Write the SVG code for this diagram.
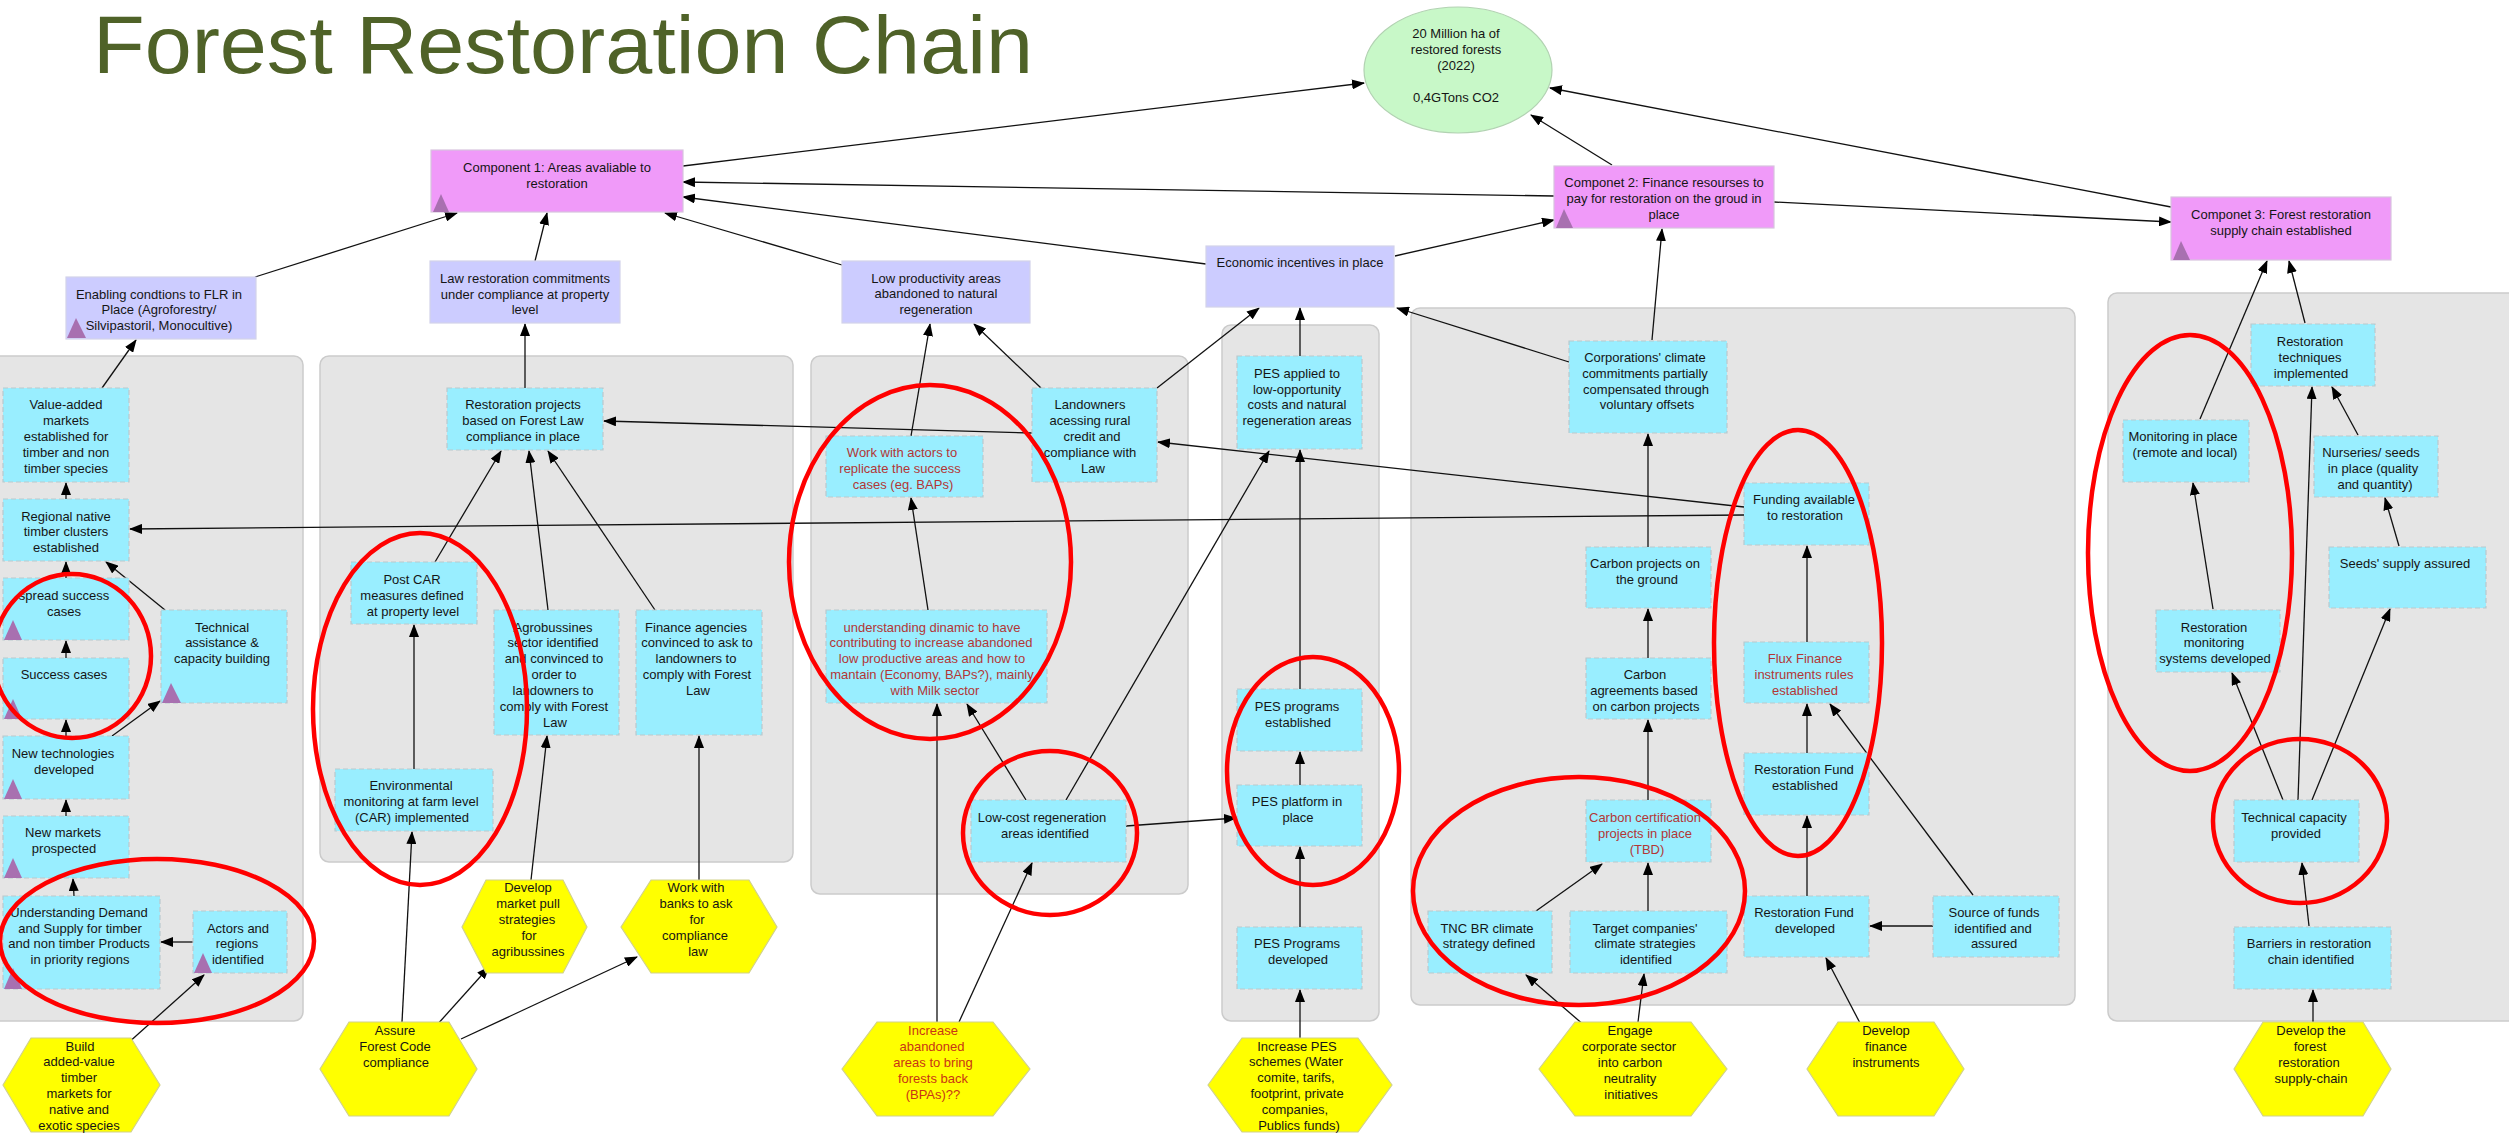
<svg xmlns="http://www.w3.org/2000/svg" width="2509" height="1138" viewBox="0 0 2509 1138">
<style>
.panel{fill:#e5e5e5;stroke:#cbcbcb;stroke-width:1.5}
.comp{fill:#f09af9;stroke:#d8c4de;stroke-width:1.2}
.lav{fill:#ccccff;stroke:#d2d2ea;stroke-width:1.2}
.cyan{fill:#99eeff;stroke:#b9c9cd;stroke-width:1.2;stroke-dasharray:5 3}
.hex{fill:#ffff00;stroke:#d2d28a;stroke-width:1.2}
.tri{fill:#a870b0}
.goal{fill:#c8f8c8;stroke:#b2d2b2;stroke-width:1.2}
text{font-family:"Liberation Sans",Arial,sans-serif;font-size:13px;fill:#151515;text-anchor:middle}
text.red{fill:#b33636}
text.redh{fill:#c93514}
text.title{font-size:81px;fill:#4f6228;text-anchor:start}
.conn line{stroke:#111;stroke-width:1.3;marker-end:url(#arr)}
.ring{fill:none;stroke:#ff0000;stroke-width:4.5}
</style>
<defs>
<marker id="arr" markerWidth="13" markerHeight="10" refX="12" refY="5" orient="auto" markerUnits="userSpaceOnUse"><path d="M0,0 L13,5 L0,10 z" fill="#000"/></marker>
</defs>
<rect width="2509" height="1138" fill="#ffffff"/>
<text class="title" x="93" y="73" textLength="940" lengthAdjust="spacingAndGlyphs">Forest Restoration Chain</text>

<g id="panels">
<rect class="panel" x="-8" y="356" width="311" height="665" rx="9"/>
<rect class="panel" x="320" y="356" width="473" height="506" rx="9"/>
<rect class="panel" x="811" y="356" width="377" height="538" rx="9"/>
<rect class="panel" x="1222" y="325" width="157" height="696" rx="9"/>
<rect class="panel" x="1411" y="308" width="664" height="697" rx="9"/>
<rect class="panel" x="2108" y="293" width="420" height="728" rx="9"/>
</g>

<g id="connectors" class="conn">
<line x1="683" y1="166" x2="1364" y2="83"/>
<line x1="1612" y1="165" x2="1531" y2="115"/>
<line x1="2171" y1="207" x2="1550" y2="88"/>
<line x1="1554" y1="196" x2="683" y2="182"/>
<line x1="1206" y1="264" x2="683" y2="197"/>
<line x1="842" y1="265" x2="665" y2="213"/>
<line x1="255" y1="277" x2="457" y2="213"/>
<line x1="535" y1="261" x2="547" y2="213"/>
<line x1="1395" y1="256" x2="1554" y2="220"/>
<line x1="1652" y1="340" x2="1662" y2="229"/>
<line x1="1774" y1="202" x2="2171" y2="222"/>
<line x1="2200" y1="419" x2="2267" y2="261"/>
<line x1="2305" y1="323" x2="2289" y2="261"/>
<line x1="102" y1="388" x2="136" y2="340"/>
<line x1="525" y1="388" x2="525" y2="324"/>
<line x1="911" y1="436" x2="930" y2="324"/>
<line x1="1041" y1="388" x2="974" y2="324"/>
<line x1="1157" y1="388" x2="1259" y2="308"/>
<line x1="1300" y1="356" x2="1300" y2="308"/>
<line x1="1569" y1="362" x2="1397" y2="308"/>
<line x1="66" y1="499" x2="66" y2="483"/>
<line x1="66" y1="578" x2="66" y2="562"/>
<line x1="165" y1="610" x2="106" y2="562"/>
<line x1="66" y1="658" x2="66" y2="641"/>
<line x1="66" y1="736" x2="66" y2="720"/>
<line x1="112" y1="736" x2="160" y2="701"/>
<line x1="66" y1="816" x2="66" y2="800"/>
<line x1="74" y1="896" x2="73" y2="879"/>
<line x1="193" y1="942" x2="161" y2="942"/>
<line x1="127" y1="1044" x2="204" y2="975"/>
<line x1="1744" y1="515" x2="130" y2="529"/>
<line x1="1032" y1="433" x2="604" y2="421"/>
<line x1="1744" y1="507" x2="1158" y2="442"/>
<line x1="435" y1="562" x2="501" y2="451"/>
<line x1="548" y1="610" x2="529" y2="451"/>
<line x1="655" y1="610" x2="548" y2="451"/>
<line x1="414" y1="769" x2="414" y2="625"/>
<line x1="531" y1="880" x2="547" y2="736"/>
<line x1="402" y1="1022" x2="412" y2="832"/>
<line x1="436" y1="1026" x2="489" y2="967"/>
<line x1="461" y1="1039" x2="637" y2="957"/>
<line x1="699" y1="880" x2="699" y2="736"/>
<line x1="928" y1="610" x2="911" y2="498"/>
<line x1="1026" y1="800" x2="967" y2="704"/>
<line x1="1066" y1="800" x2="1269" y2="451"/>
<line x1="1126" y1="826" x2="1236" y2="818"/>
<line x1="937" y1="1022" x2="937" y2="704"/>
<line x1="959" y1="1022" x2="1032" y2="863"/>
<line x1="1300" y1="927" x2="1300" y2="847"/>
<line x1="1300" y1="785" x2="1300" y2="752"/>
<line x1="1300" y1="689" x2="1300" y2="450"/>
<line x1="1300" y1="1038" x2="1300" y2="990"/>
<line x1="1648" y1="547" x2="1648" y2="434"/>
<line x1="1648" y1="658" x2="1648" y2="609"/>
<line x1="1648" y1="800" x2="1648" y2="720"/>
<line x1="1648" y1="911" x2="1648" y2="863"/>
<line x1="1536" y1="911" x2="1602" y2="864"/>
<line x1="1585" y1="1026" x2="1526" y2="975"/>
<line x1="1638" y1="1022" x2="1644" y2="974"/>
<line x1="1807" y1="642" x2="1807" y2="546"/>
<line x1="1807" y1="753" x2="1807" y2="704"/>
<line x1="1807" y1="896" x2="1807" y2="816"/>
<line x1="1933" y1="926" x2="1870" y2="926"/>
<line x1="1973" y1="895" x2="1830" y2="704"/>
<line x1="1860" y1="1023" x2="1826" y2="958"/>
<line x1="2358" y1="435" x2="2332" y2="387"/>
<line x1="2399" y1="546" x2="2385" y2="498"/>
<line x1="2213" y1="609" x2="2193" y2="483"/>
<line x1="2283" y1="800" x2="2232" y2="673"/>
<line x1="2298" y1="800" x2="2312" y2="387"/>
<line x1="2312" y1="800" x2="2390" y2="609"/>
<line x1="2309" y1="926" x2="2302" y2="863"/>
<line x1="2313" y1="1022" x2="2313" y2="990"/>
</g>

<g id="goal">
<ellipse class="goal" cx="1458" cy="70" rx="94" ry="63"/>
<text><tspan x="1456" y="38">20 Million ha of</tspan><tspan x="1456" y="54">restored forests</tspan><tspan x="1456" y="70">(2022)</tspan><tspan x="1456" y="102">0,4GTons CO2</tspan></text>
</g>

<g id="component1">
<rect class="comp" x="431" y="150" width="252" height="62"/>
<polygon class="tri" points="433,212 441,194 449,212"/>
<text><tspan x="557" y="172">Component 1: Areas avaliable to</tspan><tspan x="557" y="188">restoration</tspan></text>
</g>
<g id="component2">
<rect class="comp" x="1554" y="166" width="220" height="62"/>
<polygon class="tri" points="1556,228 1564,209 1573,228"/>
<text><tspan x="1664" y="187">Componet 2: Finance resourses to</tspan><tspan x="1664" y="203">pay for restoration on the groud in</tspan><tspan x="1664" y="219">place</tspan></text>
</g>
<g id="component3">
<rect class="comp" x="2171" y="197" width="220" height="63"/>
<polygon class="tri" points="2173,260 2181,241 2190,260"/>
<text><tspan x="2281" y="219">Componet 3: Forest restoration</tspan><tspan x="2281" y="235">supply chain established</tspan></text>
</g>

<g id="enabling">
<rect class="lav" x="66" y="277" width="190" height="62"/>
<polygon class="tri" points="67,338 76,318 86,338"/>
<text><tspan x="159" y="299">Enabling condtions to FLR in</tspan><tspan x="159" y="314">Place (Agroforestry/</tspan><tspan x="159" y="330">Silvipastoril, Monocultive)</tspan></text>
</g>
<g id="law-commitments">
<rect class="lav" x="430" y="261" width="190" height="62"/>
<text><tspan x="525" y="283">Law restoration commitments</tspan><tspan x="525" y="299">under compliance at property</tspan><tspan x="525" y="314">level</tspan></text>
</g>
<g id="low-productivity">
<rect class="lav" x="842" y="261" width="188" height="62"/>
<text><tspan x="936" y="283">Low productivity areas</tspan><tspan x="936" y="298">abandoned to natural</tspan><tspan x="936" y="314">regeneration</tspan></text>
</g>
<g id="economic-incentives">
<rect class="lav" x="1206" y="246" width="188" height="61"/>
<text><tspan x="1300" y="267">Economic incentives in place</tspan></text>
</g>

<g id="value-added">
<rect class="cyan" x="3" y="388" width="126" height="94"/>
<text><tspan x="66" y="409">Value-added</tspan><tspan x="66" y="425">markets</tspan><tspan x="66" y="441">established for</tspan><tspan x="66" y="457">timber and non</tspan><tspan x="66" y="473">timber species</tspan></text>
</g>
<g id="regional-clusters">
<rect class="cyan" x="3" y="499" width="126" height="62"/>
<text><tspan x="66" y="521">Regional native</tspan><tspan x="66" y="536">timber clusters</tspan><tspan x="66" y="552">established</tspan></text>
</g>
<g id="spread-success">
<rect class="cyan" x="3" y="578" width="126" height="62"/>
<polygon class="tri" points="4,640 13,620 22,640"/>
<text><tspan x="64" y="600">spread success</tspan><tspan x="64" y="616">cases</tspan></text>
</g>
<g id="success-cases">
<rect class="cyan" x="3" y="658" width="126" height="61"/>
<polygon class="tri" points="4,719 13,699 22,719"/>
<text><tspan x="64" y="679">Success cases</tspan></text>
</g>
<g id="technical-assistance">
<rect class="cyan" x="161" y="610" width="126" height="93"/>
<polygon class="tri" points="162,703 171,683 181,703"/>
<text><tspan x="222" y="632">Technical</tspan><tspan x="222" y="647">assistance &amp;</tspan><tspan x="222" y="663">capacity building</tspan></text>
</g>
<g id="new-technologies">
<rect class="cyan" x="3" y="736" width="126" height="63"/>
<polygon class="tri" points="4,799 13,779 22,799"/>
<text><tspan x="63" y="758">New technologies</tspan><tspan x="64" y="774">developed</tspan></text>
</g>
<g id="new-markets">
<rect class="cyan" x="3" y="816" width="126" height="62"/>
<polygon class="tri" points="4,878 13,858 22,878"/>
<text><tspan x="63" y="837">New markets</tspan><tspan x="64" y="853">prospected</tspan></text>
</g>
<g id="understanding-demand">
<rect class="cyan" x="3" y="896" width="157" height="93"/>
<polygon class="tri" points="4,989 13,968 22,989"/>
<text><tspan x="79" y="917">Understanding Demand</tspan><tspan x="80" y="933">and Supply for timber</tspan><tspan x="79" y="948">and non timber Products</tspan><tspan x="80" y="964">in priority regions</tspan></text>
</g>
<g id="actors-regions">
<rect class="cyan" x="193" y="911" width="94" height="62"/>
<polygon class="tri" points="194,973 203,953 212,973"/>
<text><tspan x="238" y="933">Actors and</tspan><tspan x="237" y="948">regions</tspan><tspan x="238" y="964">identified</tspan></text>
</g>

<g id="restoration-projects">
<rect class="cyan" x="447" y="388" width="156" height="62"/>
<text><tspan x="523" y="409">Restoration projects</tspan><tspan x="523" y="425">based on Forest Law</tspan><tspan x="523" y="441">compliance in place</tspan></text>
</g>
<g id="post-car">
<rect class="cyan" x="351" y="562" width="126" height="62"/>
<text><tspan x="412" y="584">Post CAR</tspan><tspan x="412" y="600">measures defined</tspan><tspan x="413" y="616">at property level</tspan></text>
</g>
<g id="agrobusiness">
<rect class="cyan" x="494" y="610" width="125" height="125"/>
<text><tspan x="553" y="632">Agrobussines</tspan><tspan x="553" y="647">sector identified</tspan><tspan x="554" y="663">and convinced to</tspan><tspan x="554" y="679">order to</tspan><tspan x="553" y="695">landowners to</tspan><tspan x="554" y="711">comply with Forest</tspan><tspan x="555" y="727">Law</tspan></text>
</g>
<g id="finance-agencies">
<rect class="cyan" x="636" y="610" width="126" height="125"/>
<text><tspan x="696" y="632">Finance agencies</tspan><tspan x="697" y="647">convinced to ask to</tspan><tspan x="696" y="663">landowners to</tspan><tspan x="697" y="679">comply with Forest</tspan><tspan x="698" y="695">Law</tspan></text>
</g>
<g id="environmental-monitoring">
<rect class="cyan" x="335" y="769" width="158" height="62"/>
<text><tspan x="411" y="790">Environmental</tspan><tspan x="411" y="806">monitoring at farm level</tspan><tspan x="412" y="822">(CAR) implemented</tspan></text>
</g>

<g id="work-with-actors">
<rect class="cyan" x="826" y="436" width="157" height="61"/>
<text class="red"><tspan x="902" y="457">Work with actors to</tspan><tspan x="900" y="473">replicate the success</tspan><tspan x="903" y="489">cases (eg. BAPs)</tspan></text>
</g>
<g id="landowners">
<rect class="cyan" x="1032" y="388" width="125" height="94"/>
<text><tspan x="1090" y="409">Landowners</tspan><tspan x="1090" y="425">acessing rural</tspan><tspan x="1092" y="441">credit and</tspan><tspan x="1090" y="457">compliance with</tspan><tspan x="1093" y="473">Law</tspan></text>
</g>
<g id="understanding-dynamic">
<rect class="cyan" x="826" y="610" width="221" height="93"/>
<text class="red"><tspan x="932" y="632">understanding dinamic to have</tspan><tspan x="931" y="647">contributing to increase abandoned</tspan><tspan x="932" y="663">low productive areas and how to</tspan><tspan x="932" y="679">mantain (Economy, BAPs?), mainly</tspan><tspan x="935" y="695">with Milk sector</tspan></text>
</g>
<g id="low-cost-regeneration">
<rect class="cyan" x="971" y="800" width="155" height="62"/>
<text><tspan x="1042" y="822">Low-cost regeneration</tspan><tspan x="1045" y="838">areas identified</tspan></text>
</g>

<g id="pes-applied">
<rect class="cyan" x="1237" y="356" width="125" height="93"/>
<text><tspan x="1297" y="378">PES applied to</tspan><tspan x="1297" y="394">low-opportunity</tspan><tspan x="1297" y="409">costs and natural</tspan><tspan x="1297" y="425">regeneration areas</tspan></text>
</g>
<g id="pes-established">
<rect class="cyan" x="1237" y="689" width="125" height="62"/>
<text><tspan x="1297" y="711">PES programs</tspan><tspan x="1298" y="727">established</tspan></text>
</g>
<g id="pes-platform">
<rect class="cyan" x="1237" y="785" width="125" height="61"/>
<text><tspan x="1297" y="806">PES platform in</tspan><tspan x="1298" y="822">place</tspan></text>
</g>
<g id="pes-developed">
<rect class="cyan" x="1237" y="927" width="125" height="62"/>
<text><tspan x="1297" y="948">PES Programs</tspan><tspan x="1298" y="964">developed</tspan></text>
</g>

<g id="corporations">
<rect class="cyan" x="1569" y="341" width="158" height="92"/>
<text><tspan x="1645" y="362">Corporations' climate</tspan><tspan x="1645" y="378">commitments partially</tspan><tspan x="1646" y="394">compensated through</tspan><tspan x="1647" y="409">voluntary offsets</tspan></text>
</g>
<g id="carbon-projects">
<rect class="cyan" x="1586" y="547" width="125" height="61"/>
<text><tspan x="1645" y="568">Carbon projects on</tspan><tspan x="1647" y="584">the ground</tspan></text>
</g>
<g id="carbon-agreements">
<rect class="cyan" x="1586" y="658" width="125" height="61"/>
<text><tspan x="1645" y="679">Carbon</tspan><tspan x="1644" y="695">agreements based</tspan><tspan x="1646" y="711">on carbon projects</tspan></text>
</g>
<g id="carbon-certification">
<rect class="cyan" x="1586" y="800" width="125" height="62"/>
<text class="red"><tspan x="1645" y="822">Carbon certification</tspan><tspan x="1645" y="838">projects in place</tspan><tspan x="1647" y="854">(TBD)</tspan></text>
</g>
<g id="tnc-strategy">
<rect class="cyan" x="1428" y="911" width="124" height="62"/>
<text><tspan x="1487" y="933">TNC BR climate</tspan><tspan x="1489" y="948">strategy defined</tspan></text>
</g>
<g id="target-companies">
<rect class="cyan" x="1570" y="911" width="157" height="62"/>
<text><tspan x="1645" y="933">Target companies'</tspan><tspan x="1645" y="948">climate strategies</tspan><tspan x="1646" y="964">identified</tspan></text>
</g>
<g id="funding-available">
<rect class="cyan" x="1744" y="483" width="125" height="62"/>
<text><tspan x="1804" y="504">Funding available</tspan><tspan x="1805" y="520">to restoration</tspan></text>
</g>
<g id="flux-finance">
<rect class="cyan" x="1744" y="642" width="125" height="61"/>
<text class="red"><tspan x="1805" y="663">Flux Finance</tspan><tspan x="1804" y="679">instruments rules</tspan><tspan x="1805" y="695">established</tspan></text>
</g>
<g id="fund-established">
<rect class="cyan" x="1744" y="753" width="125" height="62"/>
<text><tspan x="1804" y="774">Restoration Fund</tspan><tspan x="1805" y="790">established</tspan></text>
</g>
<g id="fund-developed">
<rect class="cyan" x="1744" y="896" width="125" height="61"/>
<text><tspan x="1804" y="917">Restoration Fund</tspan><tspan x="1805" y="933">developed</tspan></text>
</g>
<g id="source-of-funds">
<rect class="cyan" x="1933" y="896" width="126" height="61"/>
<text><tspan x="1994" y="917">Source of funds</tspan><tspan x="1993" y="933">identified and</tspan><tspan x="1994" y="948">assured</tspan></text>
</g>

<g id="restoration-techniques">
<rect class="cyan" x="2251" y="324" width="124" height="62"/>
<text><tspan x="2310" y="346">Restoration</tspan><tspan x="2310" y="362">techniques</tspan><tspan x="2311" y="378">implemented</tspan></text>
</g>
<g id="monitoring-in-place">
<rect class="cyan" x="2123" y="420" width="126" height="62"/>
<text><tspan x="2183" y="441">Monitoring in place</tspan><tspan x="2185" y="457">(remote and local)</tspan></text>
</g>
<g id="nurseries">
<rect class="cyan" x="2314" y="436" width="124" height="61"/>
<text><tspan x="2371" y="457">Nurseries/ seeds</tspan><tspan x="2373" y="473">in place (quality</tspan><tspan x="2375" y="489">and quantity)</tspan></text>
</g>
<g id="seeds-supply">
<rect class="cyan" x="2329" y="547" width="157" height="61"/>
<text><tspan x="2405" y="568">Seeds' supply assured</tspan></text>
</g>
<g id="restoration-monitoring">
<rect class="cyan" x="2156" y="610" width="124" height="62"/>
<text><tspan x="2214" y="632">Restoration</tspan><tspan x="2214" y="647">monitoring</tspan><tspan x="2215" y="663">systems developed</tspan></text>
</g>
<g id="technical-capacity">
<rect class="cyan" x="2234" y="800" width="125" height="62"/>
<text><tspan x="2294" y="822">Technical capacity</tspan><tspan x="2296" y="838">provided</tspan></text>
</g>
<g id="barriers">
<rect class="cyan" x="2234" y="927" width="157" height="62"/>
<text><tspan x="2309" y="948">Barriers in restoration</tspan><tspan x="2311" y="964">chain identified</tspan></text>
</g>

<g id="hex-build">
<polygon class="hex" points="3,1085 31,1038 131,1038 160,1085 131,1132 31,1132"/>
<text><tspan x="80" y="1051">Build</tspan><tspan x="79" y="1066">added-value</tspan><tspan x="79" y="1082">timber</tspan><tspan x="79" y="1098">markets for</tspan><tspan x="79" y="1114">native and</tspan><tspan x="79" y="1130">exotic species</tspan></text>
</g>
<g id="hex-assure">
<polygon class="hex" points="320,1069 349,1022 449,1022 477,1069 449,1116 349,1116"/>
<text><tspan x="395" y="1035">Assure</tspan><tspan x="395" y="1051">Forest Code</tspan><tspan x="396" y="1067">compliance</tspan></text>
</g>
<g id="hex-market-pull">
<polygon class="hex" points="462,927 486,880 563,880 587,927 563,973 486,973"/>
<text><tspan x="528" y="892">Develop</tspan><tspan x="528" y="908">market pull</tspan><tspan x="527" y="924">strategies</tspan><tspan x="529" y="940">for</tspan><tspan x="528" y="956">agribussines</tspan></text>
</g>
<g id="hex-banks">
<polygon class="hex" points="621,927 651,880 749,880 777,927 749,973 651,973"/>
<text><tspan x="696" y="892">Work with</tspan><tspan x="696" y="908">banks to ask</tspan><tspan x="697" y="924">for</tspan><tspan x="695" y="940">compliance</tspan><tspan x="698" y="956">law</tspan></text>
</g>
<g id="hex-abandoned">
<polygon class="hex" points="842,1069 877,1022 993,1022 1030,1069 993,1116 877,1116"/>
<text class="redh"><tspan x="933" y="1035">Increase</tspan><tspan x="932" y="1051">abandoned</tspan><tspan x="933" y="1067">areas to bring</tspan><tspan x="933" y="1083">forests back</tspan><tspan x="933" y="1099">(BPAs)??</tspan></text>
</g>
<g id="hex-pes">
<polygon class="hex" points="1208,1085 1242,1038 1358,1038 1392,1085 1358,1132 1242,1132"/>
<text><tspan x="1297" y="1051">Increase PES</tspan><tspan x="1296" y="1066">schemes (Water</tspan><tspan x="1296" y="1082">comite, tarifs,</tspan><tspan x="1297" y="1098">footprint, private</tspan><tspan x="1295" y="1114">companies,</tspan><tspan x="1299" y="1130">Publics funds)</tspan></text>
</g>
<g id="hex-engage">
<polygon class="hex" points="1539,1069 1575,1022 1691,1022 1727,1069 1691,1116 1575,1116"/>
<text><tspan x="1630" y="1035">Engage</tspan><tspan x="1629" y="1051">corporate sector</tspan><tspan x="1630" y="1067">into carbon</tspan><tspan x="1630" y="1083">neutrality</tspan><tspan x="1631" y="1099">initiatives</tspan></text>
</g>
<g id="hex-finance">
<polygon class="hex" points="1807,1069 1838,1022 1934,1022 1964,1069 1934,1116 1838,1116"/>
<text><tspan x="1886" y="1035">Develop</tspan><tspan x="1886" y="1051">finance</tspan><tspan x="1886" y="1067">instruments</tspan></text>
</g>
<g id="hex-supply-chain">
<polygon class="hex" points="2234,1069 2263,1022 2363,1022 2391,1069 2363,1116 2263,1116"/>
<text><tspan x="2311" y="1035">Develop the</tspan><tspan x="2310" y="1051">forest</tspan><tspan x="2309" y="1067">restoration</tspan><tspan x="2311" y="1083">supply-chain</tspan></text>
</g>

<g id="highlights">
<ellipse class="ring" cx="72" cy="656" rx="79" ry="82"/>
<ellipse class="ring" cx="420" cy="709" rx="107" ry="176"/>
<ellipse class="ring" cx="157" cy="941" rx="157" ry="82"/>
<ellipse class="ring" cx="930" cy="562" rx="141" ry="177"/>
<ellipse class="ring" cx="1050" cy="833" rx="87" ry="82"/>
<ellipse class="ring" cx="1313" cy="771" rx="86" ry="114"/>
<ellipse class="ring" cx="1579" cy="891" rx="166" ry="114"/>
<ellipse class="ring" cx="1798" cy="643" rx="84" ry="213"/>
<ellipse class="ring" cx="2190" cy="553" rx="102" ry="218"/>
<ellipse class="ring" cx="2300" cy="821" rx="87" ry="82"/>
</g>
</svg>
